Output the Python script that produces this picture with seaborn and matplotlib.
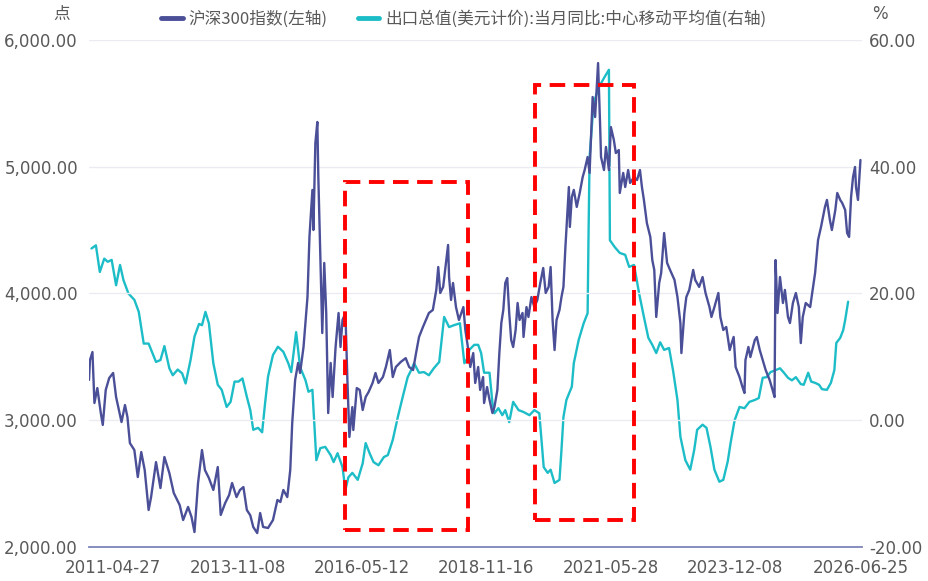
import pandas as pd
import matplotlib
matplotlib.use("Agg")
import matplotlib.pyplot as plt
import matplotlib.dates as mdates
import matplotlib.ticker as mticker
from matplotlib.lines import Line2D
from matplotlib.patches import Rectangle
import seaborn as sns

# CSI 300 index (left axis), decimal year / level
hs300_year = [
    2010.83, 2010.85, 2010.90, 2010.94, 2011.00, 2011.07, 2011.11, 2011.17, 2011.24, 2011.32,
    2011.38, 2011.45, 2011.49, 2011.56, 2011.61, 2011.66, 2011.75, 2011.82, 2011.89, 2011.96,
    2012.04, 2012.09, 2012.19, 2012.28, 2012.36, 2012.46, 2012.55, 2012.67, 2012.74, 2012.84,
    2012.91, 2012.97, 2013.04, 2013.12, 2013.18, 2013.26, 2013.35, 2013.44, 2013.50, 2013.59,
    2013.67, 2013.73, 2013.82, 2013.89, 2013.96, 2014.03, 2014.10, 2014.16, 2014.24, 2014.30,
    2014.36, 2014.46, 2014.56, 2014.65, 2014.71, 2014.77, 2014.85, 2014.91, 2014.95, 2015.01,
    2015.07, 2015.11, 2015.18, 2015.26, 2015.30, 2015.36, 2015.38, 2015.42, 2015.46, 2015.48,
    2015.52, 2015.56, 2015.60, 2015.64, 2015.68, 2015.73, 2015.77, 2015.83, 2015.89, 2015.93,
    2015.97, 2016.03, 2016.07, 2016.11, 2016.17, 2016.19, 2016.26, 2016.32, 2016.38, 2016.44,
    2016.50, 2016.58, 2016.64, 2016.70, 2016.79, 2016.85, 2016.93, 2016.99, 2017.05, 2017.15,
    2017.25, 2017.32, 2017.40, 2017.46, 2017.52, 2017.60, 2017.66, 2017.72, 2017.80, 2017.87,
    2017.91, 2017.95, 2018.01, 2018.05, 2018.11, 2018.13, 2018.17, 2018.21, 2018.27, 2018.33,
    2018.42, 2018.46, 2018.52, 2018.56, 2018.62, 2018.66, 2018.72, 2018.76, 2018.82, 2018.84,
    2018.90, 2018.95, 2019.01, 2019.05, 2019.11, 2019.15, 2019.19, 2019.23, 2019.27, 2019.31,
    2019.35, 2019.39, 2019.43, 2019.48, 2019.52, 2019.56, 2019.62, 2019.64, 2019.70, 2019.74,
    2019.80, 2019.86, 2019.92, 2019.98, 2020.04, 2020.09, 2020.15, 2020.19, 2020.23, 2020.27,
    2020.31, 2020.37, 2020.41, 2020.45, 2020.49, 2020.56, 2020.58, 2020.62, 2020.66, 2020.72,
    2020.78, 2020.84, 2020.88, 2020.94, 2020.98, 2021.04, 2021.09, 2021.15, 2021.19, 2021.21,
    2021.27, 2021.31, 2021.37, 2021.41, 2021.47, 2021.51, 2021.57, 2021.59, 2021.66, 2021.70,
    2021.76, 2021.80, 2021.88, 2021.94, 2022.00, 2022.04, 2022.08, 2022.14, 2022.21, 2022.25,
    2022.29, 2022.33, 2022.39, 2022.43, 2022.49, 2022.55, 2022.61, 2022.70, 2022.76, 2022.82,
    2022.84, 2022.90, 2022.94, 2023.00, 2023.08, 2023.12, 2023.20, 2023.27, 2023.33, 2023.41,
    2023.45, 2023.51, 2023.59, 2023.63, 2023.69, 2023.75, 2023.82, 2023.86, 2023.90, 2023.94,
    2024.02, 2024.08, 2024.12, 2024.14, 2024.20, 2024.24, 2024.33, 2024.37, 2024.43, 2024.49,
    2024.55, 2024.63, 2024.69, 2024.73, 2024.75, 2024.79, 2024.84, 2024.90, 2024.94, 2025.00,
    2025.04, 2025.10, 2025.16, 2025.22, 2025.26, 2025.30, 2025.36, 2025.45, 2025.51, 2025.55,
    2025.61, 2025.67, 2025.71, 2025.75, 2025.79, 2025.85, 2025.89, 2025.96, 2026.00, 2026.06,
    2026.10, 2026.16, 2026.20, 2026.24, 2026.28, 2026.32, 2026.36, 2026.38, 2026.42, 2026.47,
]
hs300_val = [
    3318, 3475, 3538, 3136, 3254, 3057, 2963, 3239, 3333, 3373,
    3183, 3057, 2986, 3120, 3025, 2820, 2765, 2552, 2749, 2607,
    2292, 2394, 2670, 2465, 2710, 2584, 2426, 2331, 2213, 2316,
    2237, 2118, 2505, 2765, 2607, 2544, 2450, 2631, 2253, 2347,
    2410, 2505, 2394, 2450, 2473, 2292, 2250, 2158, 2110, 2268,
    2158, 2150, 2213, 2371, 2355, 2450, 2394, 2607, 2978, 3318,
    3452, 3373, 3578, 3972, 4446, 4817, 4501, 5187, 5353, 4919,
    4288, 3688, 4241, 3846, 3057, 3452, 3183, 3578, 3846, 3578,
    3791, 3846, 3318, 2868, 3104, 2923, 3254, 3239, 3081, 3183,
    3223, 3294, 3373, 3294, 3341, 3420, 3554, 3341, 3420, 3460,
    3490, 3420, 3396, 3530, 3657, 3736, 3791, 3846, 3870, 4028,
    4209, 4004, 4052, 4186, 4383, 4130, 3949, 4083, 3893, 3791,
    3893, 3712, 3554, 3420, 3530, 3294, 3420, 3239, 3341, 3136,
    3262, 3160, 3057, 3104, 3239, 3530, 3767, 3870, 4083, 4122,
    3846, 3633, 3578, 3712, 3925, 3791, 3846, 3657, 3893, 3815,
    3972, 3893, 3949, 4083, 4201, 4004, 4052, 4209, 3791, 3554,
    3791, 3870, 3972, 4052, 4367, 4840, 4525, 4761, 4817, 4683,
    4793, 4919, 4974, 5077, 4951, 5550, 5392, 5818, 5345, 5077,
    4974, 5156, 4974, 5313, 5211, 5108, 5132, 4793, 4951, 4840,
    4974, 4872, 4919, 4895, 4974, 4840, 4738, 4556, 4446, 4264,
    4186, 3815, 4083, 4162, 4477, 4241, 4186, 4107, 3972, 3767,
    3530, 3846, 3972, 4028, 4186, 4107, 4052, 4130, 4004, 3893,
    3815, 3893, 4004, 3815, 3712, 3736, 3554, 3609, 3657, 3420,
    3341, 3262, 3215, 3475, 3578, 3499, 3633, 3657, 3554, 3475,
    3396, 3318, 3239, 3183, 4264, 3846, 4130, 3925, 4028, 3815,
    3767, 3925, 4004, 3893, 3609, 3815, 3925, 3893, 4052, 4162,
    4422, 4525, 4604, 4683, 4738, 4580, 4501, 4659, 4793, 4738,
    4714, 4659, 4477, 4446, 4761, 4919, 4998, 4840, 4738, 5053,
]

# exports (USD) yoy, centred moving average, % (right axis)
export_year = [
    2010.88, 2010.97, 2011.05, 2011.14, 2011.21, 2011.29, 2011.38, 2011.46, 2011.53, 2011.63,
    2011.75, 2011.84, 2011.94, 2012.04, 2012.19, 2012.28, 2012.36, 2012.46, 2012.53, 2012.63,
    2012.72, 2012.79, 2012.89, 2012.97, 2013.06, 2013.12, 2013.19, 2013.26, 2013.35, 2013.44,
    2013.52, 2013.62, 2013.70, 2013.78, 2013.86, 2013.94, 2014.03, 2014.10, 2014.16, 2014.26,
    2014.34, 2014.40, 2014.46, 2014.56, 2014.66, 2014.77, 2014.87, 2014.93, 2015.03, 2015.11,
    2015.22, 2015.28, 2015.36, 2015.44, 2015.52, 2015.62, 2015.73, 2015.79, 2015.87, 2015.97,
    2016.03, 2016.09, 2016.17, 2016.28, 2016.38, 2016.44, 2016.52, 2016.60, 2016.70, 2016.81,
    2016.89, 2016.99, 2017.09, 2017.19, 2017.29, 2017.36, 2017.42, 2017.52, 2017.62, 2017.72,
    2017.82, 2017.93, 2018.03, 2018.13, 2018.23, 2018.35, 2018.44, 2018.52, 2018.54, 2018.64,
    2018.72, 2018.78, 2018.84, 2018.95, 2019.01, 2019.05, 2019.13, 2019.21, 2019.27, 2019.35,
    2019.43, 2019.54, 2019.64, 2019.76, 2019.86, 2019.96, 2020.01, 2020.05, 2020.13, 2020.19,
    2020.27, 2020.37, 2020.41, 2020.45, 2020.51, 2020.62, 2020.66, 2020.76, 2020.86, 2020.94,
    2020.96, 2020.98, 2021.06, 2021.17, 2021.27, 2021.37, 2021.39, 2021.49, 2021.59, 2021.70,
    2021.78, 2021.88, 2021.98, 2022.08, 2022.17, 2022.25, 2022.33, 2022.41, 2022.49, 2022.59,
    2022.67, 2022.76, 2022.82, 2022.92, 2023.02, 2023.10, 2023.16, 2023.27, 2023.35, 2023.43,
    2023.51, 2023.61, 2023.69, 2023.78, 2023.84, 2023.92, 2024.02, 2024.12, 2024.22, 2024.33,
    2024.41, 2024.49, 2024.57, 2024.65, 2024.75, 2024.84, 2024.92, 2025.00, 2025.08, 2025.16,
    2025.26, 2025.32, 2025.41, 2025.47, 2025.55, 2025.63, 2025.69, 2025.79, 2025.87, 2025.94,
    2025.98, 2026.06, 2026.12, 2026.16, 2026.22,
]
export_val = [
    27.1, 27.6, 23.4, 25.5, 25.0, 25.3, 21.3, 24.5, 22.1, 20.0,
    19.0, 17.1, 12.1, 12.1, 9.2, 9.5, 11.7, 8.2, 7.1, 8.0,
    7.4, 5.8, 9.5, 13.2, 15.2, 15.0, 17.1, 15.3, 9.0, 5.6,
    4.8, 2.1, 2.9, 6.1, 6.1, 6.6, 3.7, 1.6, -1.5, -1.2,
    -1.9, 2.7, 6.9, 10.3, 11.6, 10.8, 9.0, 7.6, 13.9, 8.4,
    6.3, 4.5, 4.8, -6.3, -4.4, -4.2, -5.5, -6.6, -5.2, -7.4,
    -11.0, -9.0, -8.3, -9.4, -6.8, -3.6, -5.2, -6.6, -7.1, -5.8,
    -5.5, -3.1, 0.5, 3.7, 6.8, 7.9, 9.0, 7.5, 7.6, 7.1,
    8.2, 9.2, 16.3, 14.7, 15.0, 15.3, 9.0, 10.0, 11.1, 11.9,
    11.9, 10.6, 7.5, 7.5, 2.7, 1.1, 1.9, 0.8, 1.6, -0.3,
    2.9, 1.6, 1.3, 0.8, 1.6, 1.1, -3.6, -7.4, -8.3, -7.8,
    -9.9, -9.4, -4.7, 0.5, 3.2, 5.3, 9.0, 12.7, 15.3, 16.9,
    30.0, 41.5, 50.1, 52.6, 54.0, 55.3, 28.4, 27.3, 26.4, 26.1,
    24.2, 24.5, 20.1, 16.3, 13.0, 11.9, 10.6, 12.3, 11.1, 11.4,
    7.9, 3.2, -2.6, -6.3, -7.8, -4.7, -1.5, -0.7, -1.2, -4.2,
    -7.8, -9.7, -9.4, -6.5, -3.5, 0.0, 2.1, 1.9, 2.9, 3.2,
    3.5, 6.7, 6.8, 7.6, 7.9, 8.2, 7.5, 6.7, 6.3, 6.8,
    5.7, 5.6, 7.5, 6.1, 5.9, 5.6, 4.9, 4.8, 5.9, 7.9,
    12.2, 13.0, 14.2, 15.8, 18.7,
]

tick_dates = ["2011-04-27", "2013-11-08", "2016-05-12", "2018-11-16",
              "2021-05-28", "2023-12-08", "2026-06-25"]

label_left = "沪深300指数(左轴)"
label_right = "出口总值(美元计价):当月同比:中心移动平均值(右轴)"

# highlighted periods: (start year, end year, bottom, top) in left-axis units
boxes = [(2016.03, 2018.52, 2134, 4880), (2019.88, 2021.88, 2213, 5645)]


def to_date(y):
    base = pd.Timestamp(year=int(y), month=1, day=1)
    return base + pd.Timedelta(days=(y - int(y)) * 365.25)


df_idx = pd.DataFrame({"date": [to_date(y) for y in hs300_year], "value": hs300_val})
df_exp = pd.DataFrame({"date": [to_date(y) for y in export_year], "value": export_val})

sns.set_theme(style="white")
plt.rcParams["font.family"] = ["DejaVu Sans", "Noto Sans CJK SC"]

blue = "#4a4f98"
cyan = "#1dbdc8"
grey = "#595959"

fig = plt.figure(figsize=(9.29, 5.81), dpi=100)
ax = fig.add_axes([0.0958, 0.0585, 0.832, 0.8727])
ax2 = ax.twinx()

sns.lineplot(data=df_idx, x="date", y="value", ax=ax, color=blue, linewidth=1.7,
             estimator=None, legend=False)
sns.lineplot(data=df_exp, x="date", y="value", ax=ax2, color=cyan, linewidth=1.7,
             estimator=None, legend=False)

ax.set_ylim(2000, 6000)
ax.set_yticks([2000, 3000, 4000, 5000, 6000])
ax.yaxis.set_major_formatter(mticker.FuncFormatter(lambda v, p: f"{v:,.2f}"))
ax2.set_ylim(-20, 60)
ax2.set_yticks([-20, 0, 20, 40, 60])
ax2.yaxis.set_major_formatter(mticker.FuncFormatter(lambda v, p: f"{v:.2f}"))

ax.set_xlim(to_date(2010.83), to_date(2026.50))
ax.set_xticks([pd.Timestamp(d) for d in tick_dates])
ax.set_xticklabels(tick_dates)

for a in (ax, ax2):
    a.set_xlabel("")
    a.set_ylabel("")
    for s in a.spines.values():
        s.set_visible(False)
    a.tick_params(length=0, labelsize=12, colors=grey)
ax2.grid(False)
ax.grid(axis="y", color="#ebebf3", linewidth=1.0)
ax.grid(axis="x", visible=False)
ax.spines["bottom"].set_visible(True)
ax.spines["bottom"].set_color("#7d84b8")
ax.spines["bottom"].set_linewidth(1.3)
ax.tick_params(axis="y", pad=8)
ax.tick_params(axis="x", pad=8.5)
ax2.tick_params(axis="y", pad=5)

# red dashed boxes
for x0, x1, y0, y1 in boxes:
    d0 = mdates.date2num(to_date(x0))
    d1 = mdates.date2num(to_date(x1))
    ax.add_patch(Rectangle((d0, y0), d1 - d0, y1 - y0, fill=False, edgecolor="#ff0000",
                           linewidth=2.8, linestyle=(0, (4, 2.2)), zorder=10, clip_on=False))
ax.set_zorder(ax2.get_zorder() + 1)
ax.patch.set_visible(False)

handles = [Line2D([], [], color=blue, linewidth=3.5), Line2D([], [], color=cyan, linewidth=3.5)]
fig.legend(handles, [label_left, label_right], loc="center", bbox_to_anchor=(0.499, 0.968),
           ncol=2, frameon=False, handlelength=1.3, handletextpad=0.35, columnspacing=1.8,
           prop={"family": ["Noto Sans CJK SC", "DejaVu Sans"], "size": 12},
           labelcolor=grey)

fig.text(62 / 929, 1 - 14 / 581, "点", ha="center", va="center", color=grey, fontsize=12,
         family=["Noto Sans CJK SC"])
fig.text(880 / 929, 1 - 14 / 581, "%", ha="center", va="center", color=grey, fontsize=12)

fig.savefig("out.png", dpi=100)
